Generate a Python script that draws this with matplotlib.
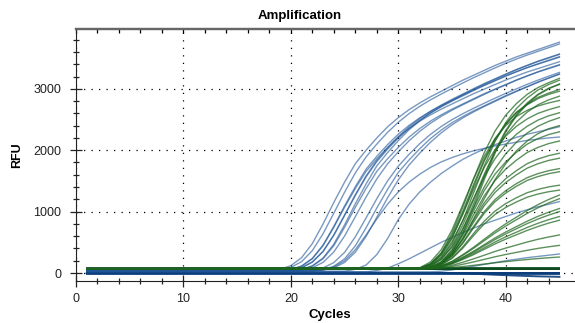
import matplotlib
matplotlib.use("Agg")
import matplotlib.pyplot as plt

plt.rcParams['font.family'] = ['Liberation Sans', 'DejaVu Sans']

# RFU readings per curve, blue curves from cycle 17 to 45 (flat before that)
blue_cycles = list(range(17, 46))
blue_curves = [
    [30, 40, 60, 120, 250, 480, 800, 1150, 1480, 1780, 2000, 2200, 2380, 2530, 2660, 2770, 2870, 2960, 3050, 3140, 3220, 3300, 3380, 3450, 3520, 3580, 3640, 3700, 3760],
    [30, 35, 50, 90, 185, 365, 640, 975, 1315, 1630, 1890, 2100, 2290, 2455, 2595, 2715, 2820, 2915, 3005, 3095, 3180, 3260, 3340, 3415, 3485, 3550, 3610, 3670, 3730],
    [30, 30, 38, 57, 114, 238, 456, 760, 1093, 1406, 1691, 1900, 2090, 2261, 2404, 2527, 2632, 2727, 2812, 2898, 2983, 3059, 3135, 3211, 3278, 3344, 3401, 3458, 3515],
    [30, 30, 35, 48, 86, 178, 350, 614, 936, 1262, 1565, 1814, 2016, 2198, 2357, 2491, 2606, 2707, 2798, 2885, 2971, 3053, 3130, 3206, 3278, 3346, 3408, 3466, 3523],
    [30, 30, 37, 56, 112, 233, 446, 744, 1070, 1376, 1655, 1860, 2046, 2213, 2353, 2474, 2576, 2669, 2753, 2837, 2920, 2995, 3069, 3143, 3209, 3274, 3329, 3385, 3441],
    [30, 30, 30, 37, 56, 112, 233, 446, 744, 1070, 1376, 1655, 1860, 2046, 2213, 2353, 2474, 2576, 2669, 2753, 2837, 2920, 2995, 3069, 3143, 3209, 3274, 3329, 3385],
    [30, 30, 35, 49, 87, 179, 354, 621, 946, 1276, 1581, 1833, 2037, 2221, 2381, 2517, 2634, 2735, 2828, 2915, 3002, 3085, 3162, 3240, 3313, 3380, 3444, 3502, 3560],
    [30, 30, 30, 35, 47, 85, 174, 343, 602, 917, 1236, 1532, 1777, 1974, 2153, 2308, 2439, 2552, 2651, 2740, 2825, 2909, 2989, 3064, 3140, 3210, 3276, 3337, 3393],
    [30, 30, 30, 39, 59, 118, 245, 470, 784, 1127, 1450, 1744, 1960, 2156, 2332, 2479, 2607, 2715, 2813, 2901, 2989, 3077, 3156, 3234, 3312, 3381, 3450, 3508, 3567],
    [30, 30, 30, 30, 35, 46, 83, 170, 336, 589, 897, 1210, 1500, 1739, 1932, 2107, 2259, 2387, 2498, 2594, 2682, 2765, 2847, 2926, 2999, 3073, 3142, 3206, 3266],
    [30, 30, 30, 30, 30, 37, 55, 110, 230, 442, 736, 1058, 1362, 1638, 1840, 2024, 2190, 2328, 2447, 2548, 2640, 2723, 2806, 2889, 2962, 3036, 3110, 3174, 3238],
    [30, 30, 30, 30, 30, 35, 47, 84, 172, 339, 595, 907, 1223, 1516, 1758, 1953, 2130, 2283, 2413, 2525, 2623, 2711, 2795, 2878, 2957, 3032, 3106, 3176, 3241],
    [30, 30, 30, 30, 30, 30, 30, 30, 30, 60, 130, 300, 560, 870, 1120, 1320, 1480, 1620, 1740, 1850, 1940, 2020, 2090, 2150, 2210, 2260, 2300, 2340, 2383],
    [30, 30, 30, 30, 30, 30, 50, 100, 200, 380, 620, 880, 1120, 1320, 1480, 1610, 1720, 1810, 1880, 1940, 1990, 2030, 2070, 2100, 2130, 2160, 2180, 2200, 2215],
    [20, 20, 20, 20, 20, 20, 20, 20, 20, 20, 20, 40, 80, 150, 230, 320, 410, 500, 580, 660, 730, 800, 860, 920, 980, 1030, 1080, 1120, 1163],
    [20, 20, 20, 20, 20, 20, 20, 20, 20, 20, 20, 20, 20, 20, 20, 20, 20, 30, 50, 80, 110, 140, 170, 200, 225, 250, 270, 290, 310],
]
blue_flat_levels = [-12, -4, 4]
blue_drift_cycles = list(range(35, 46))
blue_drift = [0, -5, -12, -20, -28, -35, -42, -48, -54, -58, -62]

# green curves from cycle 32 to 45 (flat before that)
green_cycles = list(range(32, 46))
green_curves = [
    [75, 150, 330, 650, 1070, 1530, 1960, 2310, 2570, 2760, 2910, 3020, 3100, 3170],
    [75, 125, 240, 480, 850, 1300, 1740, 2140, 2450, 2680, 2850, 2980, 3070, 3140],
    [72, 90, 160, 330, 640, 1060, 1520, 1950, 2300, 2560, 2750, 2900, 3000, 3080],
    [80, 150, 320, 610, 1000, 1440, 1850, 2180, 2430, 2620, 2750, 2860, 2930, 2990],
    [75, 115, 225, 440, 780, 1190, 1610, 1970, 2250, 2460, 2620, 2740, 2820, 2880],
    [85, 180, 380, 700, 1110, 1530, 1900, 2190, 2400, 2550, 2650, 2720, 2770, 2810],
    [80, 145, 300, 580, 960, 1360, 1720, 2010, 2230, 2390, 2510, 2600, 2660, 2710],
    [78, 130, 260, 510, 850, 1210, 1570, 1860, 2090, 2260, 2390, 2490, 2560, 2610],
    [75, 110, 220, 420, 720, 1060, 1400, 1700, 1940, 2130, 2280, 2390, 2470, 2530],
    [72, 95, 180, 380, 700, 1120, 1570, 1990, 2320, 2580, 2770, 2910, 3010, 3070],
    [80, 140, 290, 560, 960, 1400, 1820, 2160, 2420, 2610, 2740, 2840, 2910, 2960],
    [70, 85, 150, 300, 560, 880, 1210, 1520, 1780, 1990, 2150, 2270, 2350, 2400],
    [70, 92, 182, 360, 650, 1007, 1341, 1609, 1809, 1966, 2099, 2189, 2255, 2300],
    [70, 91, 174, 340, 611, 944, 1256, 1505, 1692, 1838, 1963, 2046, 2108, 2150],
    [70, 89, 164, 314, 559, 860, 1142, 1367, 1536, 1668, 1781, 1856, 1912, 1950],
    [70, 88, 160, 304, 538, 826, 1096, 1312, 1474, 1600, 1708, 1780, 1834, 1870],
    [70, 86, 152, 282, 494, 755, 999, 1195, 1341, 1456, 1553, 1619, 1667, 1700],
    [70, 86, 149, 275, 481, 734, 971, 1160, 1302, 1413, 1508, 1571, 1618, 1650],
    [70, 84, 138, 247, 424, 641, 845, 1008, 1131, 1226, 1308, 1362, 1403, 1430],
    [70, 83, 134, 236, 403, 608, 800, 953, 1068, 1158, 1235, 1286, 1324, 1350],
    [70, 82, 118, 190, 298, 418, 550, 682, 802, 910, 1018, 1114, 1198, 1270],
    [70, 81, 116, 184, 287, 401, 526, 651, 765, 868, 971, 1062, 1142, 1210],
    [70, 80, 109, 168, 256, 354, 462, 570, 668, 756, 844, 923, 991, 1050],
    [70, 79, 107, 163, 247, 340, 442, 544, 637, 721, 805, 879, 944, 1000],
    [70, 79, 104, 155, 232, 317, 410, 504, 589, 665, 742, 810, 869, 920],
    [70, 78, 102, 149, 220, 299, 386, 473, 552, 623, 694, 757, 813, 860],
    [70, 76, 92, 125, 175, 230, 290, 351, 406, 455, 505, 549, 587, 620],
    [70, 74, 85, 108, 142, 180, 222, 264, 302, 336, 370, 401, 427, 450],
    [70, 72, 78, 89, 106, 125, 146, 167, 186, 203, 220, 235, 249, 260],
]
green_flat_levels = [60, 68, 76]

first_cycle = 1
last_cycle = 45

blue = '#1f5597'
green = '#1e661e'

fig = plt.figure(figsize=(5.75, 3.23), dpi=100)
ax = fig.add_axes([76 / 575, 42 / 323, 1 - 76 / 575, 252 / 323])

# flat (non-amplified) wells make the dark bands along the baseline
for lv in blue_flat_levels:
    ax.plot([first_cycle, last_cycle], [lv, lv], color='#0a3d7a', lw=1.4, alpha=0.9)
ax.plot([first_cycle] + blue_drift_cycles, [blue_drift[0]] + blue_drift, color='#0a3d7a', lw=1.4, alpha=0.9)

for vals in blue_curves:
    ax.plot([first_cycle] + blue_cycles, [vals[0]] + vals, color=blue, lw=1.0, alpha=0.6)

for lv in green_flat_levels:
    ax.plot([first_cycle, last_cycle], [lv, lv], color='#0b4a1e', lw=1.4, alpha=0.9)

for vals in green_curves:
    ax.plot([first_cycle] + green_cycles, [green_flat_levels[1]] + vals, color=green, lw=1.0, alpha=0.72)

ax.set_xlim(0, 46.45)
ax.set_ylim(-130, 3974)

ax.set_xticks([0, 10, 20, 30, 40])
ax.set_xticks(range(0, 46, 2), minor=True)
ax.set_yticks([0, 1000, 2000, 3000])
ax.set_yticks(range(0, 4000, 200), minor=True)
ax.tick_params(which='major', direction='inout', length=9, width=0.9, labelsize=9, colors='#222222')
ax.tick_params(axis='x', which='major', pad=4)
ax.tick_params(axis='y', which='major', pad=6)
ax.tick_params(which='minor', direction='inout', length=5, width=0.9, colors='#222222')

top = ax.secondary_xaxis('top')
top.set_xticks(range(0, 46, 2))
top.tick_params(direction='in', length=3, width=0.9, labeltop=False)
top.spines['top'].set_color('#666666')
top.spines['top'].set_linewidth(1.6)

ax.spines['right'].set_visible(False)
ax.spines['top'].set_color('#666666')
ax.spines['top'].set_linewidth(1.6)
ax.spines['left'].set_color('#222222')
ax.spines['bottom'].set_color('#222222')

ax.grid(True, which='major', color='black', linestyle=(0, (1, 5)), linewidth=0.9)

fig.text(300 / 575, 1 - 16 / 323, 'Amplification', ha='center', va='center',
         fontsize=9.5, fontweight='bold')
fig.text(330 / 575, 1 - 315 / 323, 'Cycles', ha='center', va='center',
         fontsize=9.5, fontweight='bold')
fig.text(17 / 575, 1 - 155 / 323, 'RFU', ha='center', va='center',
         fontsize=9, fontweight='bold', rotation=90)

fig.savefig('out.png', dpi=100)
